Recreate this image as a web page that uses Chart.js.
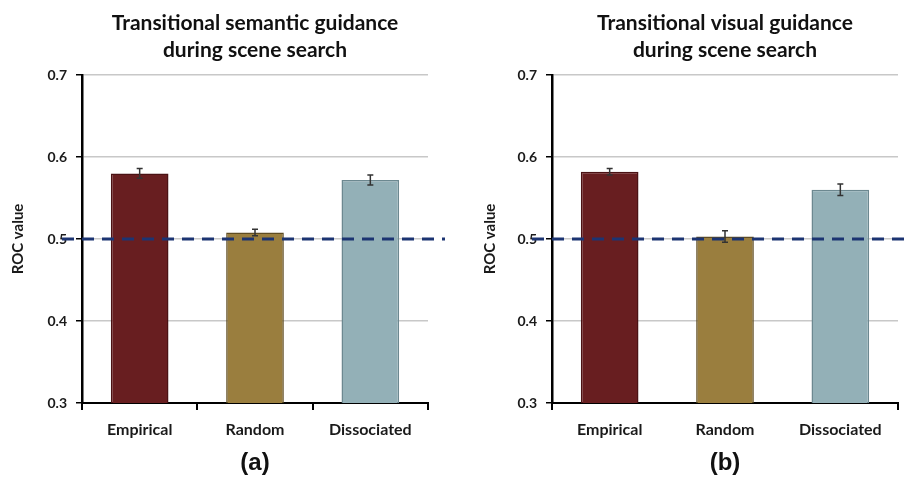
<!DOCTYPE html>
<html>
<head>
<meta charset="utf-8">
<script src="https://cdn.jsdelivr.net/npm/chart.js@4"></script>
<style>
  body { margin: 0; background: #fff; }
  .panel { display: inline-block; width: 453px; height: 483px; vertical-align: top; }
</style>
</head>
<body>
<div style="width:906px;height:483px;white-space:nowrap;font-size:0">
  <div class="panel"><canvas id="chartA" width="453" height="483"></canvas></div><div class="panel"><canvas id="chartB" width="453" height="483"></canvas></div>
</div>
<script>
const categories = ["Empirical", "Random", "Dissociated"];
const semanticMeans = [0.580, 0.508, 0.572];
const semanticErrors = [0.006, 0.004, 0.006];
const visualMeans = [0.582, 0.503, 0.560];
const visualErrors = [0.004, 0.007, 0.007];
const chanceLevel = 0.5;
const yMin = 0.3, yMax = 0.7, yStep = 0.1;

const fills = ["#681e20", "#9a7e3e", "#93b0b7"];
const borders = ["#4a1214", "#5f4c22", "#6c8890"];

Chart.defaults.font.family = "Lato";
Chart.defaults.color = "#1a1a1a";

// error bars drawn over each bar
const errorBars = {
  id: "errorBars",
  afterDatasetsDraw(chart, args, opts) {
    const ctx = chart.ctx;
    const y = chart.scales.y;
    const meta = chart.getDatasetMeta(0);
    const errs = opts.errors;
    const vals = chart.data.datasets[0].data;
    ctx.save();
    ctx.strokeStyle = "#333";
    ctx.lineWidth = 1.5;
    meta.data.forEach((bar, i) => {
      const top = y.getPixelForValue(vals[i] + errs[i]);
      const bot = y.getPixelForValue(vals[i] - errs[i]);
      ctx.beginPath();
      ctx.moveTo(bar.x, top); ctx.lineTo(bar.x, bot);
      ctx.moveTo(bar.x - 3, top); ctx.lineTo(bar.x + 3, top);
      ctx.moveTo(bar.x - 3, bot); ctx.lineTo(bar.x + 3, bot);
      ctx.stroke();
    });
    ctx.restore();
  }
};

// dashed chance line
const chanceLine = {
  id: "chanceLine",
  afterDatasetsDraw(chart) {
    const ctx = chart.ctx;
    const a = chart.chartArea;
    const py = chart.scales.y.getPixelForValue(chanceLevel);
    ctx.save();
    ctx.strokeStyle = "#1c3472";
    ctx.lineWidth = 3;
    ctx.setLineDash([12, 8]);
    ctx.beginPath();
    ctx.moveTo(a.left - 20, py);
    ctx.lineTo(a.right + 17, py);
    ctx.stroke();
    ctx.restore();
  }
};

function makeChart(id, title, means, errors, label, pad, yWidth, hideMidTicks) {
  return new Chart(document.getElementById(id), {
    type: "bar",
    data: {
      labels: categories,
      datasets: [{
        data: means,
        backgroundColor: fills,
        borderColor: borders,
        borderWidth: 1.5,
        borderSkipped: false,
        barPercentage: 0.5,
        categoryPercentage: 1
      }]
    },
    options: {
      responsive: false,
      animation: false,
      layout: { padding: pad },
      plugins: {
        legend: { display: false },
        tooltip: { enabled: false },
        title: {
          display: true,
          text: title,
          fullSize: false,
          color: "#111",
          font: { size: 21, weight: "bold", lineHeight: 1.3 },
          padding: { top: 9.4, bottom: 11 }
        },
        errorBars: { errors: errors }
      },
      scales: {
        y: {
          min: yMin,
          max: yMax,
          afterFit(scale) { scale.width = yWidth; },
          ticks: {
            stepSize: yStep,
            padding: 9,
            color: "#1a1a1a",
            font: { size: 14, weight: "bold" },
            callback: v => v.toFixed(1)
          },
          grid: { color: "#c8c8c8", lineWidth: 1.5, tickColor: "#000", tickLength: 6 },
          border: { color: "#000", width: 2.5 },
          title: {
            display: true,
            text: "ROC value",
            color: "#1a1a1a",
            font: { size: 15, weight: "bold" },
            padding: { top: 9, bottom: 0 }
          }
        },
        x: {
          afterFit(scale) { scale.height = 80; },
          ticks: { padding: 10, color: "#1a1a1a", font: { size: 16, weight: "bold" } },
          grid: {
            drawOnChartArea: false,
            offset: true,
            lineWidth: 2,
            tickLength: 7,
            tickColor: c => (hideMidTicks && (c.index === 1 || c.index === 2)) ? "rgba(0,0,0,0)" : "#000"
          },
          border: { color: "#000", width: 2 },
          title: {
            display: true,
            text: label,
            color: "#111",
            font: { family: "Liberation Sans", size: 24, weight: "bold" },
            padding: { top: 4, bottom: 5.6 }
          }
        }
      }
    },
    plugins: [errorBars, chanceLine]
  });
}

makeChart("chartA", ["Transitional semantic guidance", "during scene search"],
  semanticMeans, semanticErrors, "(a)", { left: 0, right: 25, top: 0, bottom: 0 }, 82, false);
makeChart("chartB", ["Transitional visual guidance", "during scene search"],
  visualMeans, visualErrors, "(b)", { left: 19, right: 8, top: 0, bottom: 0 }, 80, true);
</script>
</body>
</html>
